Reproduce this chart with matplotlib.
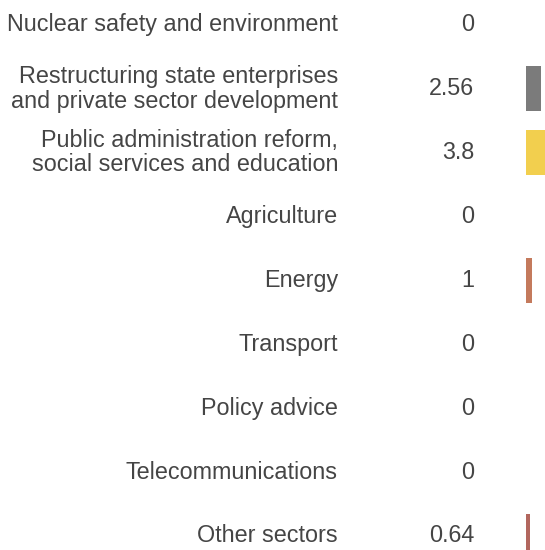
import matplotlib.pyplot as plt
from matplotlib.transforms import blended_transform_factory

sectors = ['Nuclear safety and environment',
           'Restructuring state enterprises\nand private sector development',
           'Public administration reform,\nsocial services and education',
           'Agriculture', 'Energy', 'Transport', 'Policy advice',
           'Telecommunications', 'Other sectors']
values = [0, 2.56, 3.8, 0, 1, 0, 0, 0, 0.64]
value_labels = ['0', '2.56', '3.8', '0', '1', '0', '0', '0', '0.64']
colors = ['#888888', '#7b7b7b', '#f2cf4e', '#888888', '#c47a5c',
          '#888888', '#888888', '#888888', '#b2675e']

plt.rcParams['font.family'] = ['Liberation Sans', 'DejaVu Sans']

W, H = 545, 550
fig = plt.figure(figsize=(W / 100, H / 100), dpi=100)
ax = fig.add_axes([526 / W, 0, 24 / W, 1])
ax.set_xlim(0, 4)
ax.set_ylim(8.22, -0.39)
ax.axis('off')

rows = list(range(len(sectors)))
ax.barh(rows, values, height=0.7, color=colors, align='center')

trans = blended_transform_factory(fig.transFigure, ax.transData)
for i, (name, lab) in enumerate(zip(sectors, value_labels)):
    ax.text(338 / W, i, name, transform=trans, ha='right', va='center',
            fontsize=16.8, color='#454545', linespacing=1.08, clip_on=False)
    ax.text(474 / W, i, lab, transform=trans, ha='right', va='center',
            fontsize=16.8, color='#454545', clip_on=False)

fig.savefig('out.png', dpi=100)
